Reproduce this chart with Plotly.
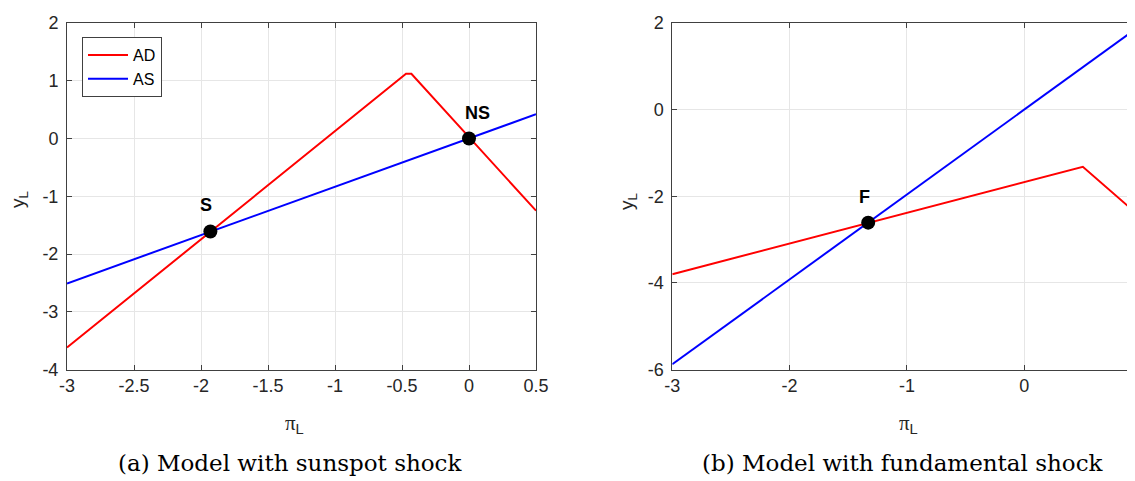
import plotly.graph_objects as go

# ---- data ----
# (a) sunspot shock
ad_a_x = [-3.0, -0.47, -0.43, 0.5]
ad_a_y = [-3.62, 1.12, 1.12, -1.25]
as_a_x = [-3.0, 0.5]
as_a_y = [-2.51, 0.42]
pts_a_x = [-1.93, 0.0]
pts_a_y = [-1.61, 0.0]
pts_a_lab = ["S", "NS"]

# (b) fundamental shock
ad_b_x = [-3.0, 0.5, 1.0]
ad_b_y = [-3.8, -1.32, -2.5]
as_b_x = [-3.0, 1.0]
as_b_y = [-5.88, 1.96]
pts_b_x = [-1.33]
pts_b_y = [-2.61]
pts_b_lab = ["F"]

xticks_a = [-3, -2.5, -2, -1.5, -1, -0.5, 0, 0.5]
yticks_a = [-4, -3, -2, -1, 0, 1, 2]
xticks_b = [-3, -2, -1, 0, 1]
yticks_b = [-6, -4, -2, 0, 2]

OFF = 8  # page body margin
W, H = 1135 - OFF, 481 - OFF
RED, BLUE = "#ff0000", "#0000ff"
TXT = "#262626"
GRID = "#e6e6e6"
AX = "#404040"

def px(x):
    return (x - OFF) / W

def py(y):
    return 1 - (y - OFF) / H

fig = go.Figure()
fig.add_trace(go.Scatter(x=ad_a_x, y=ad_a_y, mode="lines", name="AD",
                         line=dict(color=RED, width=2), xaxis="x", yaxis="y"))
fig.add_trace(go.Scatter(x=as_a_x, y=as_a_y, mode="lines", name="AS",
                         line=dict(color=BLUE, width=2), xaxis="x", yaxis="y"))
fig.add_trace(go.Scatter(x=pts_a_x, y=pts_a_y, mode="markers", showlegend=False,
                         marker=dict(color="black", size=14), xaxis="x", yaxis="y"))
fig.add_trace(go.Scatter(x=ad_b_x, y=ad_b_y, mode="lines", showlegend=False,
                         line=dict(color=RED, width=2), xaxis="x2", yaxis="y2"))
fig.add_trace(go.Scatter(x=as_b_x, y=as_b_y, mode="lines", showlegend=False,
                         line=dict(color=BLUE, width=2), xaxis="x2", yaxis="y2"))
fig.add_trace(go.Scatter(x=pts_b_x, y=pts_b_y, mode="markers", showlegend=False,
                         marker=dict(color="black", size=14), xaxis="x2", yaxis="y2"))

# point labels
for xs, ys, labs, ax in [(pts_a_x, pts_a_y, pts_a_lab, ""), (pts_b_x, pts_b_y, pts_b_lab, "2")]:
    for xv, yv, lab in zip(xs, ys, labs):
        fig.add_annotation(x=xv, y=yv, xref="x" + ax, yref="y" + ax, text="<b>%s</b>" % lab,
                           showarrow=False, xshift=-4 if lab != "NS" else 8, yshift=26,
                           xanchor="center", yanchor="middle",
                           font=dict(family="Liberation Sans, Arial", size=18, color="black"))

common_ax = dict(showgrid=True, gridcolor=GRID, gridwidth=1, zeroline=False, automargin=False,
                 showline=True, linecolor=AX, linewidth=1, ticks="inside", ticklen=5,
                 tickcolor=AX, tickfont=dict(family="Liberation Sans, Arial", size=18, color=TXT))

def lbl(vals):
    return [("%g" % v) for v in vals]

y_bot = py(369.5)
y_top = py(23)

fig.update_layout(
    width=W, height=H, margin=dict(l=0, r=0, t=0, b=0, autoexpand=False),
    paper_bgcolor="white", plot_bgcolor="white", showlegend=True,
    xaxis=dict(domain=[px(67), px(536)], range=[-3, 0.5], tickvals=xticks_a,
               ticktext=lbl(xticks_a), mirror="ticks", anchor="y", **common_ax),
    yaxis=dict(domain=[y_bot, y_top], range=[-4, 2], tickvals=yticks_a, ticktext=lbl(yticks_a),
               mirror="ticks", anchor="x", ticklabelstandoff=4, **common_ax),
    xaxis2=dict(domain=[px(672.3), 1.0], range=[-3, (1135 - 672.3) / 117.3 - 3], tickvals=xticks_b,
                ticktext=lbl(xticks_b), mirror="ticks", anchor="y2", **common_ax),
    yaxis2=dict(domain=[y_bot, y_top], range=[-6, 2], tickvals=yticks_b, ticktext=lbl(yticks_b),
                mirror=False, anchor="x2", ticklabelstandoff=4, **common_ax),
    legend=dict(x=px(82), y=py(37), xanchor="left", yanchor="top",
                bgcolor="white", bordercolor=AX, borderwidth=1,
                font=dict(family="Liberation Sans, Arial", size=16, color="black"),
                tracegroupgap=0, itemwidth=40),
)

# axis titles
def ylab(xp, yp):
    fig.add_annotation(x=px(xp), y=py(yp), xref="paper", yref="paper", showarrow=False,
                       text="y<sub>L</sub>", textangle=-90, xanchor="center", yanchor="middle",
                       font=dict(family="Liberation Sans, Arial", size=19, color=TXT))

def xlab(xp, yp):
    fig.add_annotation(x=px(xp), y=py(yp), xref="paper", yref="paper", showarrow=False,
                       text="<span style='font-family:Liberation Serif'>π</span><sub>L</sub>",
                       xanchor="center", yanchor="middle",
                       font=dict(family="Liberation Sans, Arial", size=21, color=TXT))

ylab(19, 200)
ylab(628, 202)
xlab(294, 424)
xlab(908, 424)

def caption(xp, yp, txt):
    fig.add_annotation(x=px(xp), y=py(yp), xref="paper", yref="paper", showarrow=False,
                       text=txt, xanchor="center", yanchor="middle",
                       font=dict(family="DejaVu Serif", size=23, color="black"))

caption(290, 463, "(a) Model with sunspot shock")
caption(903, 463, "(b) Model with fundamental shock")

fig.write_html("out.html")
